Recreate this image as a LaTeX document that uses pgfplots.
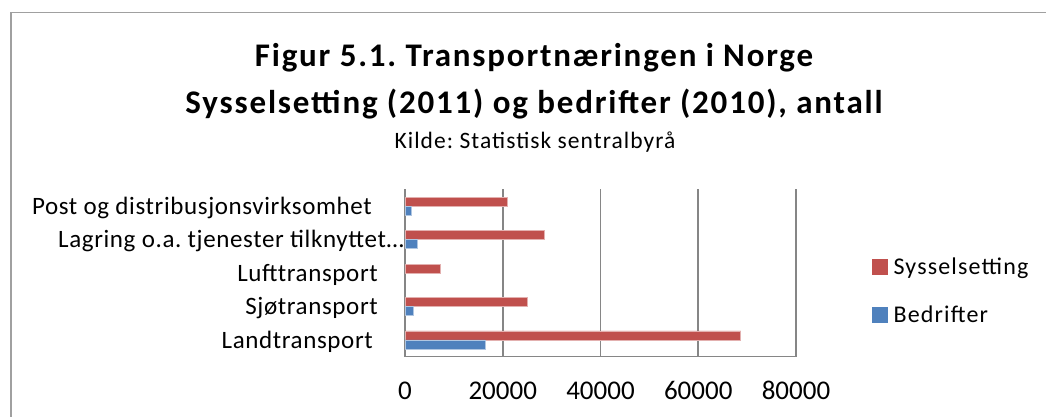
\documentclass[border=0pt]{standalone}
\usepackage{fontspec}
\setmainfont{Carlito}
\usepackage{pgfplots}
\pgfplotsset{compat=1.18}
\definecolor{barred}{HTML}{C0504D}
\definecolor{barblue}{HTML}{4F81BD}
\definecolor{gridgray}{HTML}{868686}
\definecolor{framegray}{HTML}{A0A0A0}
\frenchspacing
\begin{document}
\begin{tikzpicture}[x=1pt,y=1pt]
\useasboundingbox (0,0) rectangle (1046,416);
\draw[framegray, line width=1.3pt] (11,-2) -- (11,403.3) -- (1048,403.3);
\node[anchor=base, inner sep=0pt, font=\fontsize{33}{36}\selectfont\bfseries\addfontfeatures{LetterSpace=5.5}] at (534,349.3) {Figur 5.1. Transportnæringen i Norge};
\node[anchor=base, inner sep=0pt, font=\fontsize{33}{36}\selectfont\bfseries\addfontfeatures{LetterSpace=5.5}] at (534,302.7) {Sysselsetting (2011) og bedrifter (2010), antall};
\node[anchor=base, inner sep=0pt, font=\fontsize{23.5}{26}\selectfont\addfontfeatures{LetterSpace=4.5}] at (535,267.7) {Kilde: Statistisk sentralbyrå};
\begin{axis}[
  at={(405pt,59.3pt)}, anchor=south west,
  scale only axis, width=391pt, height=167.4pt,
  xbar, bar width=9pt,
  xmin=0, xmax=80000, ymin=-0.5, ymax=4.5,
  enlargelimits=false, clip=false,
  axis x line=bottom, axis y line=left,
  axis line style={-, draw=gridgray, line width=1.5pt},
  xmajorgrids, grid style={draw=gridgray, line width=1.5pt},
  major tick length=0pt,
  scaled x ticks=false,
  xtick={0,20000,40000,60000,80000},
  xticklabels={0,20000,40000,60000,80000},
  /pgf/number format/assume math mode=true,
  xticklabel style={anchor=base, inner sep=0pt, yshift=-42.6pt, font=\fontsize{27}{30}\selectfont},
  ytick={0,1,2,3,4},
  yticklabels={Landtransport\hspace{3pt}\mbox{}, Sjøtransport\hspace{-2pt}\mbox{}, Lufttransport\hspace{-2pt}\mbox{}, Lagring o.a. tjenester tilknyttet…\hspace{-28pt}\mbox{}, Post og distribusjonsvirksomhet\hspace{4pt}\mbox{}},
  yticklabel style={anchor=base east, inner sep=0pt, xshift=-29pt, yshift=-8.3pt, font=\fontsize{25}{28}\selectfont\addfontfeatures{LetterSpace=2.5}},
  legend cell align=left,
  legend style={at={(axis description cs:1.1944,0.594)}, anchor=north west, draw=none, fill=none, inner sep=0pt, outer sep=0pt, row sep=26pt, font=\fontsize{24}{28}\selectfont\addfontfeatures{LetterSpace=4.8}, nodes={inner sep=0pt, text height=17pt, text depth=5pt}},
]
\addplot[xbar, bar shift=4.5pt, fill=barred, draw=barred!45!white, line width=0.6pt,
  legend image code/.code={\fill[barred] (0pt,-6pt) rectangle (15pt,9pt);}]
  coordinates {(68700,0) (25100,1) (7200,2) (28600,3) (20900,4)};
\addplot[xbar, bar shift=-4.5pt, fill=barblue, draw=barblue!45!white, line width=0.6pt,
  legend image code/.code={\fill[barblue] (0pt,-6pt) rectangle (15pt,9pt);}]
  coordinates {(16400,0) (1600,1) (2450,3) (1200,4)};
\legend{\hspace{6pt}Sysselsetting, \hspace{6pt}Bedrifter}
\end{axis}
\end{tikzpicture}
\end{document}
